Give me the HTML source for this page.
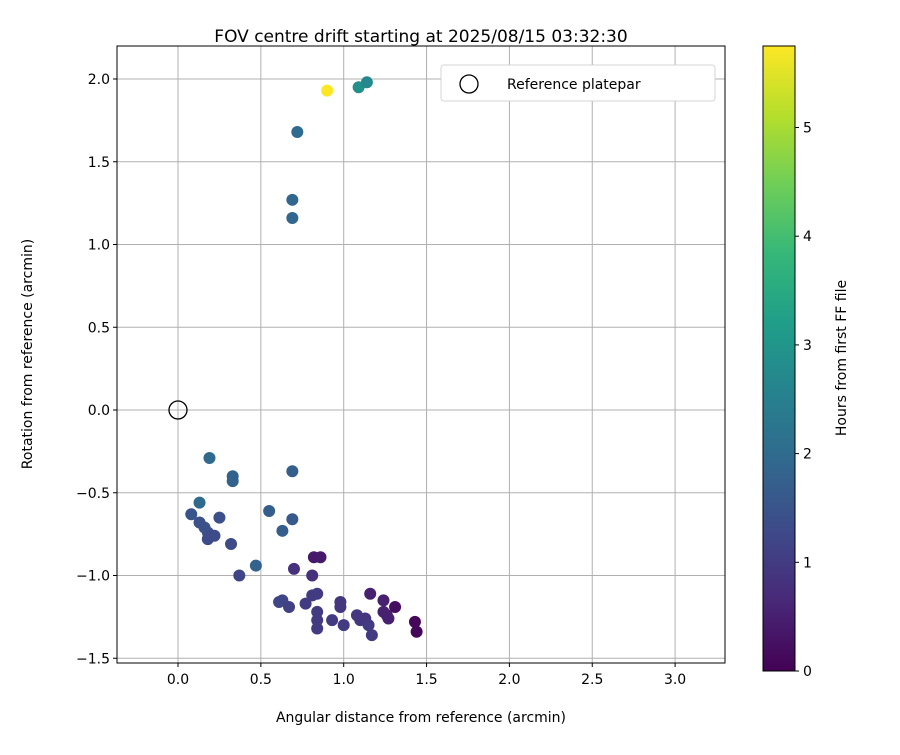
<!DOCTYPE html>
<html><head><meta charset="utf-8"><style>body{margin:0;background:#fff}svg text{font-family:"DejaVu Sans","Liberation Sans",sans-serif;fill:#000}</style></head>
<body>
<svg id="c" width="900" height="750" xmlns="http://www.w3.org/2000/svg"></svg>
<script>
const xVals=[0.90,1.09,1.14,0.72,0.69,0.69,0.19,0.33,0.33,0.69,0.08,0.13,0.13,0.16,0.18,0.18,0.20,0.22,0.25,0.32,0.37,0.47,0.55,0.63,0.69,0.70,0.82,0.86,0.81,0.61,0.63,0.67,0.77,0.81,0.84,0.84,0.84,0.84,0.93,0.98,0.98,1.00,1.08,1.10,1.13,1.15,1.17,1.16,1.24,1.24,1.26,1.27,1.31,1.43,1.44];
const yVals=[1.93,1.95,1.98,1.68,1.27,1.16,-0.29,-0.40,-0.43,-0.37,-0.63,-0.56,-0.68,-0.71,-0.74,-0.78,-0.76,-0.76,-0.65,-0.81,-1.00,-0.94,-0.61,-0.73,-0.66,-0.96,-0.89,-0.89,-1.00,-1.16,-1.15,-1.19,-1.17,-1.12,-1.11,-1.22,-1.27,-1.32,-1.27,-1.16,-1.19,-1.30,-1.24,-1.27,-1.26,-1.30,-1.36,-1.11,-1.15,-1.22,-1.24,-1.26,-1.19,-1.28,-1.34];
const hours=[5.75,2.9,2.7,2.0,1.9,1.9,2.0,1.8,1.8,1.7,1.5,2.0,1.4,1.4,1.4,1.3,1.3,1.3,1.4,1.3,1.2,1.8,1.7,1.7,1.6,0.8,0.4,0.4,0.8,1.2,1.2,1.1,1.0,1.0,1.0,1.0,1.0,1.0,1.0,0.9,0.9,1.0,0.9,0.9,0.9,1.0,1.0,0.5,0.5,0.5,0.5,0.5,0.2,0.1,0.1];
const xTicks=[0.0,0.5,1.0,1.5,2.0,2.5,3.0];
const yTicks=[-1.5,-1.0,-0.5,0.0,0.5,1.0,1.5,2.0];
const cTicks=[0,1,2,3,4,5];
const NS="http://www.w3.org/2000/svg",svg=document.getElementById('c');
const L=117,R=725,T=46,B=663;
const X=v=>178+(v)*165.7, Y=v=>410-v*165.5;
const CT=46,CB=671,C=h=>CB-(h/5.75)*(CB-CT);
const fmt=v=>(v<0?'\u2212':'')+Math.abs(v).toFixed(1);
const vir=[[68,1,84],[72,40,120],[62,74,137],[49,104,142],[38,130,142],[31,158,137],[53,183,121],[110,206,88],[181,222,43],[253,231,37]];
function col(t){t=Math.max(0,Math.min(1,t))*9;const i=Math.min(8,Math.floor(t)),f=t-i,a=vir[i],b=vir[i+1];return `rgb(${a.map((v,k)=>Math.round(v+(b[k]-v)*f)).join(',')})`;}
function el(t,a,p){const e=document.createElementNS(NS,t);for(const k in a)e.setAttribute(k,a[k]);(p||svg).appendChild(e);return e;}
function tx(s,x,y,a){const e=el('text',Object.assign({x:x,y:y,'font-size':14},a||{}));e.textContent=s;return e;}
const grid=el('g',{});
xTicks.forEach(v=>{el('line',{x1:X(v),x2:X(v),y1:T,y2:B,stroke:'#b0b0b0','stroke-width':1},grid);el('line',{x1:X(v),x2:X(v),y1:B,y2:B+4,stroke:'#000'});const t=tx(fmt(v),X(v),B+21,{'text-anchor':'middle'});});
yTicks.forEach(v=>{el('line',{x1:L,x2:R,y1:Y(v),y2:Y(v),stroke:'#b0b0b0','stroke-width':1},grid);el('line',{x1:L-4,x2:L,y1:Y(v),y2:Y(v),stroke:'#000'});const t=tx(fmt(v),L-7,Y(v)+5,{'text-anchor':'end'});});
const pts=el('g',{});
xVals.forEach((x,i)=>{const c=el('circle',{cx:X(x),cy:Y(yVals[i]),r:6,fill:col(hours[i]/5.75)},pts);});
const ref=el('circle',{cx:X(0),cy:Y(0),r:9,fill:'none',stroke:'#000','stroke-width':1.3});
const fr=el('rect',{x:L,y:T,width:R-L,height:B-T,fill:'none',stroke:'#000','stroke-width':1});
const lg=el('g',{});
el('rect',{x:441,y:65,width:274,height:36,rx:3,fill:'#fff',stroke:'#ccc','stroke-opacity':0.8},lg);
el('circle',{cx:469,cy:84,r:9,fill:'none',stroke:'#000','stroke-width':1.3},lg);
const lt=tx('Reference platepar',507,89,{'font-size':14});lg.appendChild(lt);
const ti=tx('FOV centre drift starting at 2025/08/15 03:32:30',421,42,{'font-size':17,'text-anchor':'middle'});
const xt=tx('Angular distance from reference (arcmin)',421,722,{'font-size':14,'text-anchor':'middle'});
const yt=tx('Rotation from reference (arcmin)',38,354,{'font-size':14,'text-anchor':'middle',transform:'rotate(-90 38 354) translate(0 -6)'});
const defs=el('defs',{});const gr=el('linearGradient',{id:'vg',x1:0,y1:1,x2:0,y2:0},defs);
vir.forEach((c,i)=>el('stop',{offset:i/9,'stop-color':`rgb(${c.join(',')})`},gr));
const cb=el('rect',{x:763,y:CT,width:32,height:CB-CT,fill:'url(#vg)',stroke:'#000','stroke-width':1});
cTicks.forEach(v=>{el('line',{x1:795,x2:799,y1:C(v),y2:C(v),stroke:'#000'});const t=tx(String(v),803,C(v)+5,{'font-size':14});});
const ct=tx('Hours from first FF file',846,358,{'font-size':14,'text-anchor':'middle',transform:'rotate(-90 846 358)'});
</script>
</body></html>
